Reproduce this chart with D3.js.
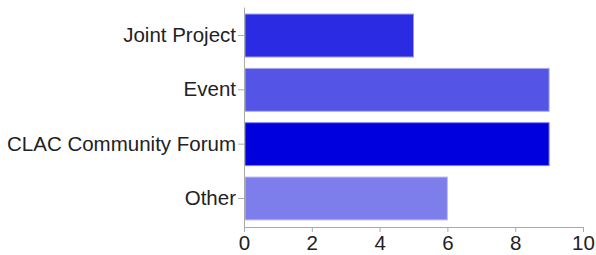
<!DOCTYPE html>
<html>
<head>
<meta charset="utf-8">
<script src="https://cdn.jsdelivr.net/npm/d3@7"></script>
<style>
  body { margin: 0; background: #fff; }
  text { font-family: "Liberation Sans", Arial, sans-serif; }
</style>
</head>
<body>
<div id="chart"></div>
<script>
// Chart data
const categories = ['Joint Project', 'Event', 'CLAC Community Forum', 'Other'];
const counts = [5, 9, 9, 6];
const barColors = ['#2b2be3', '#5454e6', '#0000de', '#7d7dec'];
const xTicks = [0, 2, 4, 6, 8, 10];

const width = 596;
const height = 255;
const margin = { top: 7, right: 13, bottom: 28, left: 244 };

const svg = d3.select('#chart')
  .append('svg')
  .attr('width', width)
  .attr('height', height);

const x = d3.scaleLinear()
  .domain([0, 10])
  .range([margin.left, width - margin.right]);

const y = d3.scaleBand()
  .domain(categories)
  .range([margin.top, height - margin.bottom])
  .paddingInner(0.21)
  .paddingOuter(0.13);

// Bars
svg.append('g')
  .selectAll('rect')
  .data(categories)
  .enter()
  .append('rect')
  .attr('x', x(0) + 1)
  .attr('y', d => y(d))
  .attr('width', (d, i) => x(counts[i]) - x(0) - 1)
  .attr('height', y.bandwidth())
  .attr('fill', (d, i) => barColors[i])
  .attr('stroke', (d, i) => d3.interpolateRgb(barColors[i], '#fff')(0.5))
  .attr('stroke-width', 1);

// X axis
const xAxis = svg.append('g')
  .attr('transform', `translate(0, ${height - margin.bottom})`)
  .call(d3.axisBottom(x).tickValues(xTicks).tickSize(5).tickSizeOuter(0));

// Y axis
const yAxis = svg.append('g')
  .attr('transform', `translate(${margin.left}, 0)`)
  .call(d3.axisLeft(y).tickSize(6).tickSizeOuter(0));

[xAxis, yAxis].forEach(ax => {
  ax.select('.domain').attr('stroke', '#aaa');
  ax.selectAll('.tick line').attr('stroke', '#aaa');
  ax.selectAll('.tick text')
    .attr('fill', '#222')
    .style('font-size', '20.5px')
    .style('font-family', '"Liberation Sans", Arial, sans-serif');
});

// keep the x labels inside the bottom edge
xAxis.selectAll('.tick text').attr('dy', '0.73em');
yAxis.selectAll('.tick text').attr('x', -8);
</script>
</body>
</html>
